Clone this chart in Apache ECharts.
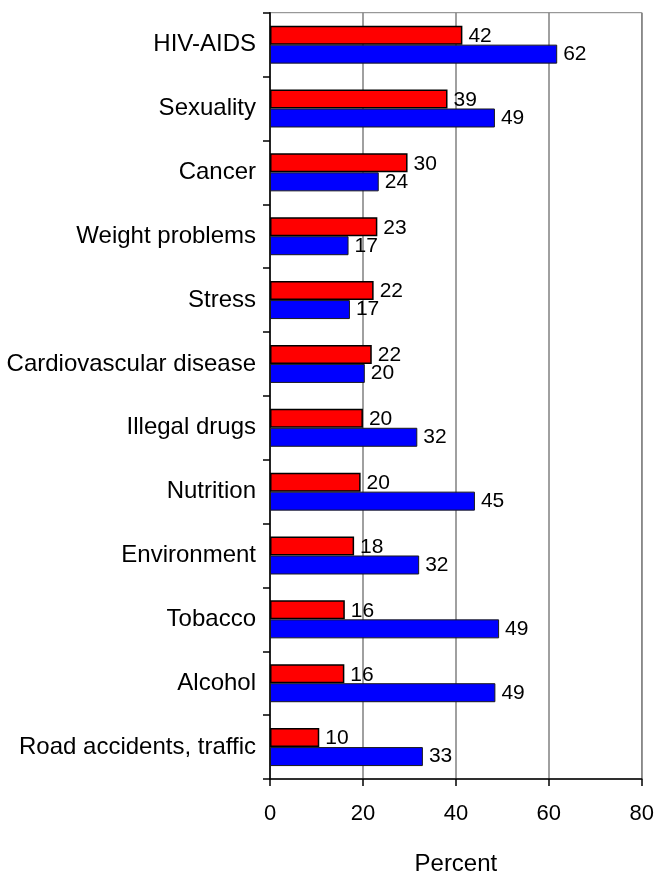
<!DOCTYPE html>
<html>
<head>
<meta charset="utf-8">
<script src="https://cdn.jsdelivr.net/npm/echarts@6/dist/echarts.min.js"></script>
<style>
html,body{margin:0;padding:0;background:#fff;}
#chart{width:657px;height:881px;}
</style>
</head>
<body>
<div id="chart"></div>
<script>
const categories = ["HIV-AIDS","Sexuality","Cancer","Weight problems","Stress","Cardiovascular disease","Illegal drugs","Nutrition","Environment","Tobacco","Alcohol","Road accidents, traffic"];
const redValues = [41.4, 38.2, 29.6, 23.1, 22.3, 21.9, 20.0, 19.5, 18.1, 16.1, 16.0, 10.6];
const redLabels = [42, 39, 30, 23, 22, 22, 20, 20, 18, 16, 16, 10];
const blueValues = [61.8, 48.4, 23.4, 16.9, 17.2, 20.4, 31.7, 44.1, 32.1, 49.3, 48.5, 32.9];
const blueLabels = [62, 49, 24, 17, 17, 20, 32, 45, 32, 49, 49, 33];
const xTicks = [0, 20, 40, 60, 80];

const chart = echarts.init(document.getElementById('chart'));
const font = '"Liberation Sans", Arial, sans-serif';
chart.setOption({
  animation: false,
  backgroundColor: '#fff',
  textStyle: { fontFamily: font },
  grid: { left: 270, right: 14.5, top: 12.7, bottom: 93.3, show: true, borderColor: '#808080', borderWidth: 1 },
  xAxis: {
    type: 'value', min: xTicks[0], max: xTicks[xTicks.length - 1], interval: 20,
    axisLine: { show: true, lineStyle: { color: '#000', width: 1.5 } },
    axisTick: { show: true, length: 7, lineStyle: { color: '#000', width: 1.5 } },
    splitLine: { show: true, lineStyle: { color: '#808080', width: 1.5 } },
    axisLabel: { fontSize: 22, color: '#000', margin: 24, fontFamily: font },
    name: 'Percent', nameLocation: 'middle', nameGap: 73,
    nameTextStyle: { fontSize: 24, color: '#000', fontFamily: font }
  },
  yAxis: {
    type: 'category', data: categories, inverse: true,
    axisLine: { show: true, lineStyle: { color: '#000', width: 1.5 } },
    axisTick: { show: true, length: 7, lineStyle: { color: '#000', width: 1.5 } },
    splitLine: { show: false },
    axisLabel: { fontSize: 24, color: '#000', margin: 14, fontFamily: font, padding: [6, 0, 0, 0] }
  },
  series: [
    {
      type: 'bar', data: redValues, barWidth: 19, barGap: '0%',
      itemStyle: { color: '#FF0000', borderColor: '#000', borderWidth: 1.5 },
      label: { show: true, position: 'right', distance: 6, fontSize: 21, color: '#000', fontFamily: font,
        offset: [0, 1], formatter: p => String(redLabels[p.dataIndex]) }
    },
    {
      type: 'bar', data: blueValues, barWidth: 19, barGap: '0%',
      itemStyle: { color: '#0000FF', borderColor: '#1a1a1a', borderWidth: 1 },
      label: { show: true, position: 'right', distance: 6, fontSize: 21, color: '#000', fontFamily: font,
        formatter: p => String(blueLabels[p.dataIndex]) }
    }
  ]
});
</script>
</body>
</html>
